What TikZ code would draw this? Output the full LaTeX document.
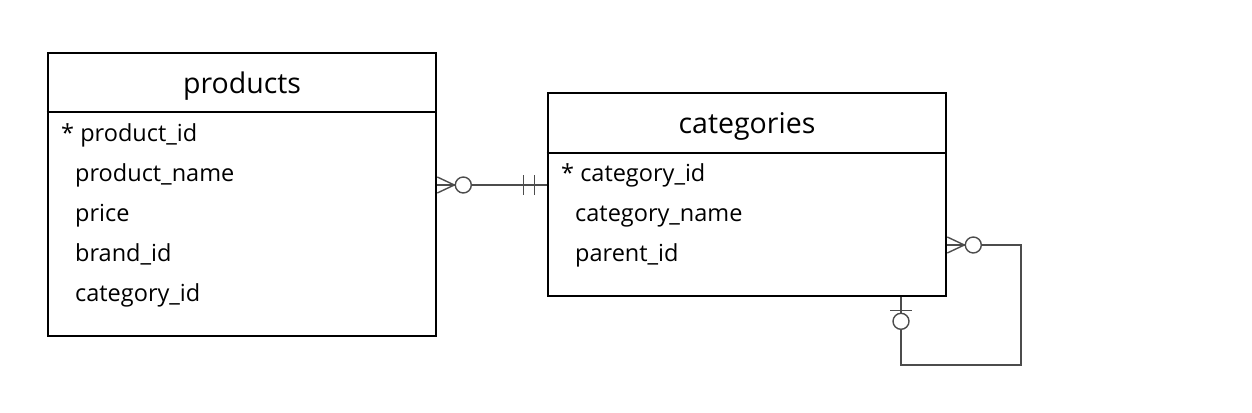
\documentclass[tikz,border=0pt]{standalone}
\usepackage{fontspec}
\setmainfont{Open Sans}
\begin{document}
\begin{tikzpicture}[x=1pt, y=-1pt,
		table/.style={draw=black, line width=2.6pt, inner sep=0pt},
		title/.style={anchor=base, inner sep=0pt, font=\fontsize{28.5}{32}\selectfont},
		attr/.style={anchor=base west, inner sep=0pt, font=\fontsize{23.5}{26}\selectfont},
		rel/.style={draw=black!70, line width=1.4pt}]
		\useasboundingbox (0,0) rectangle (1252,412);
		% tables
		\node[table, minimum width=388pt, minimum height=283pt] (products) at (242,194.5) {};
		\draw[line width=2.6pt] (products.west |- 0,112) -- (products.east |- 0,112);
		\node[title] (productsTitle) at (242,93) {products};
		\node[attr] (pk1) at (61,141) {* product\_id};
		\node[attr] (a1) at (75,181) {product\_name};
		\node[attr] (a2) at (75,221) {price};
		\node[attr] (a3) at (75,261) {brand\_id};
		\node[attr] (a4) at (75,301) {category\_id};
		\node[table, minimum width=398pt, minimum height=203pt] (categories) at (747,194.5) {};
		\draw[line width=2.6pt] (categories.west |- 0,153) -- (categories.east |- 0,153);
		\node[title] (categoriesTitle) at (747,133) {categories};
		\node[attr] (pk2) at (561,181) {* category\_id};
		\node[attr] (b1) at (575,221) {category\_name};
		\node[attr] (b2) at (575,261) {parent\_id};
		% products -- categories
		\coordinate (p1) at (products.east |- 0,185);
		\coordinate (c1) at (categories.west |- 0,185);
		\draw[rel] (p1) -- (c1);
		\draw[rel] ([yshift=8pt]p1) -- ([xshift=17pt]p1) -- ([yshift=-8pt]p1);
		\draw[rel, fill=white] ([xshift=26pt]p1) circle (8pt);
		\draw[rel] ([xshift=-23pt, yshift=10pt]c1) -- ([xshift=-23pt, yshift=-10pt]c1);
		\draw[rel] ([xshift=-12pt, yshift=10pt]c1) -- ([xshift=-12pt, yshift=-10pt]c1);
		% categories -- categories
		\coordinate (c2) at (categories.east |- 0,245);
		\coordinate (c3) at (categories.south -| 901,0);
		\coordinate (k1) at (1021,245);
		\coordinate (k2) at (1021,365);
		\coordinate (k3) at (901,365);
		\draw[rel] (c2) -- (k1) -- (k2) -- (k3) -- (c3);
		\draw[rel] ([yshift=8pt]c2) -- ([xshift=17pt]c2) -- ([yshift=-8pt]c2);
		\draw[rel, fill=white] ([xshift=26pt]c2) circle (8pt);
		\draw[rel] ([xshift=-11pt, yshift=-13pt]c3) -- ([xshift=11pt, yshift=-13pt]c3);
		\draw[rel, fill=white] ([yshift=-24pt]c3) circle (8pt);
	\end{tikzpicture}
\end{document}
